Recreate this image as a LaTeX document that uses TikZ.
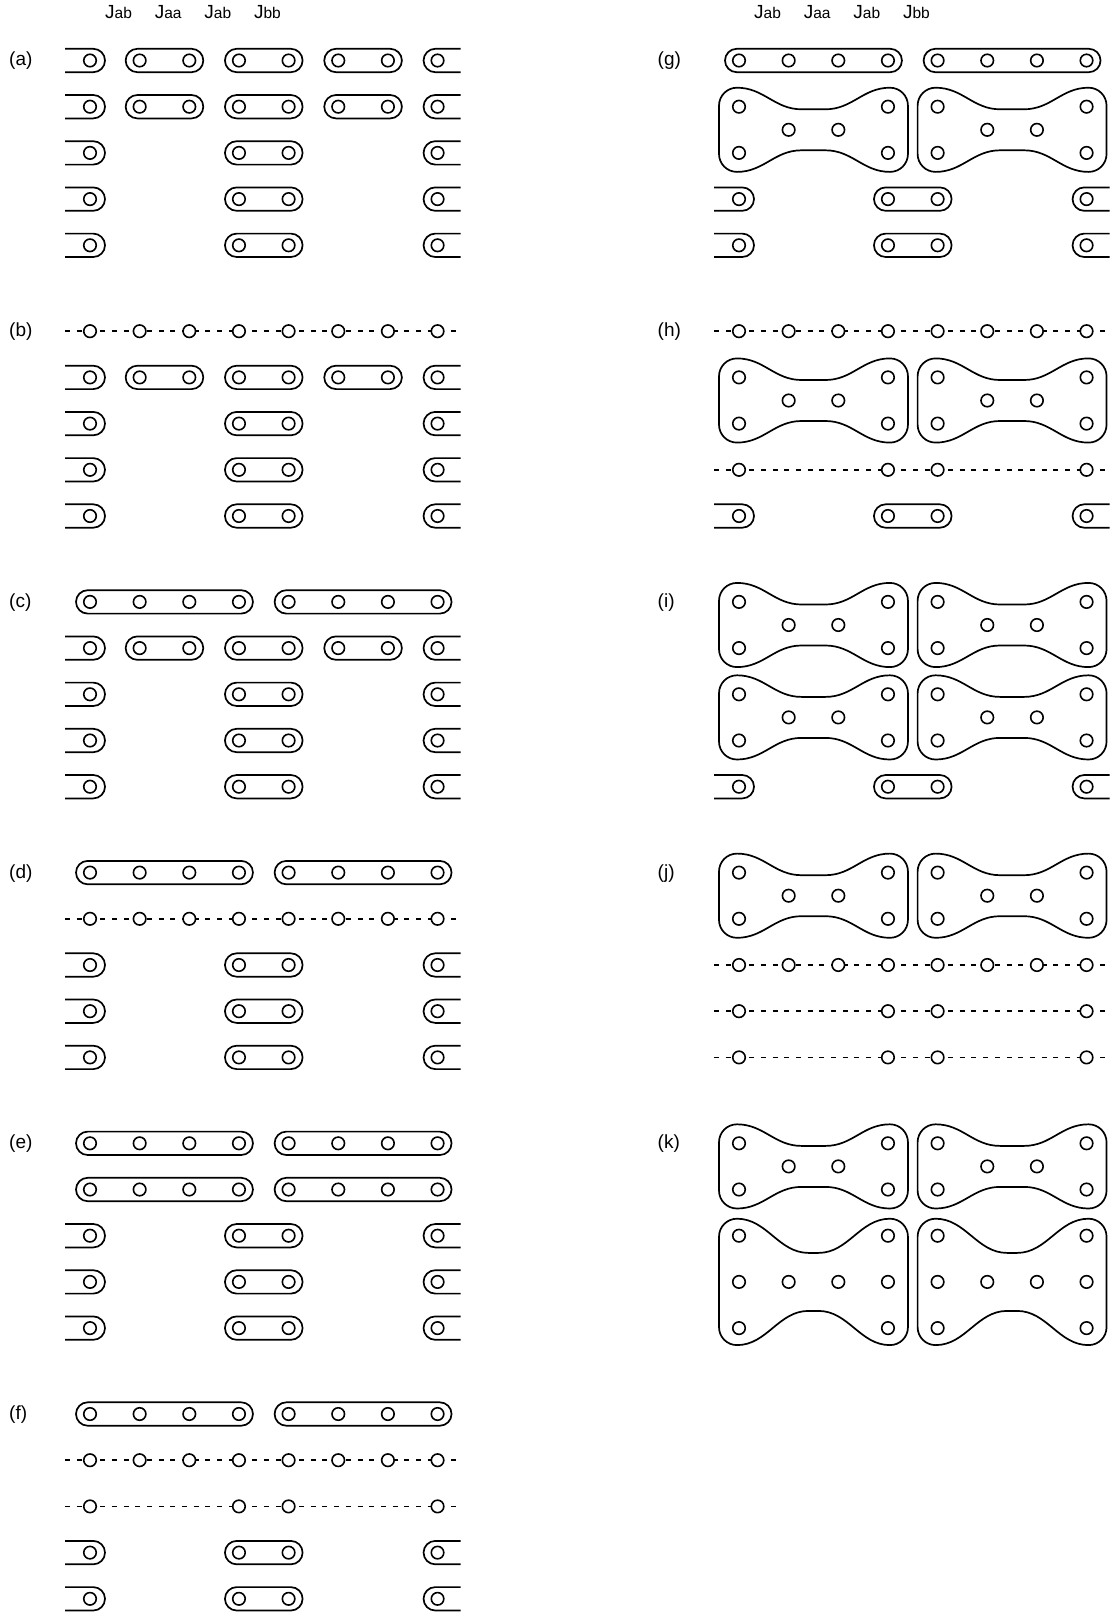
\documentclass[tikz,border=0pt]{standalone}
\usepackage{fontspec}
\setmainfont{Liberation Sans}
\newcommand\Site[4]{\node[site] (#1) at ({#2+49.65*#3},{#4}) {};}
\newcommand\HalfL[2]{\draw[bond,rounded corners=11.7pt] ({#1-25},{#2-11.7}) -- ({#1+15},{#2-11.7}) -- ({#1+15},{#2+11.7}) -- ({#1-25},{#2+11.7});}
\newcommand\HalfR[2]{\draw[bond,rounded corners=11.7pt] ({#1+49.65*7+23},{#2-11.7}) -- ({#1+49.65*7-14},{#2-11.7}) -- ({#1+49.65*7-14},{#2+11.7}) -- ({#1+49.65*7+23},{#2+11.7});}
\newcommand\Pill[4]{\draw[bond,rounded corners=11.7pt] ({#1+49.65*#2-14},{#4-11.7}) rectangle ({#1+49.65*#3+14},{#4+11.7});}
\newcommand\FullRow[3]{\HalfL{#2}{#3}\Pill{#2}{1}{2}{#3}\Pill{#2}{3}{4}{#3}\Pill{#2}{5}{6}{#3}\HalfR{#2}{#3}\foreach \c in {0,...,7}{\Site{#1-\c}{#2}{\c}{#3}}}
\newcommand\SparseRow[3]{\HalfL{#2}{#3}\Pill{#2}{3}{4}{#3}\HalfR{#2}{#3}\foreach \c in {0,3,4,7}{\Site{#1-\c}{#2}{\c}{#3}}}
\newcommand\LongRow[3]{\Pill{#2}{0}{3}{#3}\Pill{#2}{4}{7}{#3}\foreach \c in {0,...,7}{\Site{#1-\c}{#2}{\c}{#3}}}
\newcommand\DashRow[3]{\coordinate (#1-L) at ({#2-25},{#3}); \coordinate (#1-R) at ({#2+49.65*7+22},{#3}); \draw[dashline] (#1-L) -- (#1-R); \foreach \c in {0,...,7}{\Site{#1-\c}{#2}{\c}{#3}}}
\newcommand\DashSparse[3]{\coordinate (#1-L) at ({#2-25},{#3}); \coordinate (#1-R) at ({#2+49.65*7+22},{#3}); \draw[dashline] (#1-L) -- (#1-R); \foreach \c in {0,3,4,7}{\Site{#1-\c}{#2}{\c}{#3}}}
% xl, xr, cx, yT, yB, yW, yWb, waist half width, handle
\newcommand\BowShape[9]{%
\draw[bond] ({#1},{#4+18}) .. controls ({#1},{#4+8}) and ({#1+8},{#4}) .. ({#1+18},{#4})
 .. controls ({#1+18+#9},{#4}) and ({#3-#8-#9},{#6}) .. ({#3-#8},{#6})
 -- ({#3+#8},{#6})
 .. controls ({#3+#8+#9},{#6}) and ({#2-18-#9},{#4}) .. ({#2-18},{#4})
 .. controls ({#2-8},{#4}) and ({#2},{#4+8}) .. ({#2},{#4+18})
 -- ({#2},{#5-18})
 .. controls ({#2},{#5-8}) and ({#2-8},{#5}) .. ({#2-18},{#5})
 .. controls ({#2-18-#9},{#5}) and ({#3+#8+#9},{#7}) .. ({#3+#8},{#7})
 -- ({#3-#8},{#7})
 .. controls ({#3-#8-#9},{#7}) and ({#1+18+#9},{#5}) .. ({#1+18},{#5})
 .. controls ({#1+8},{#5}) and ({#1},{#5-8}) .. ({#1},{#5-18}) -- cycle;}
\newcommand\SmallBow[3]{%
 \pgfmathsetmacro\bxl{#2-20}\pgfmathsetmacro\bxr{#2+3*49.65+20}\pgfmathsetmacro\bcx{#2+1.5*49.65}%
 \pgfmathsetmacro\byT{#3-19}\pgfmathsetmacro\byB{#3+46.2+19}%
 \pgfmathsetmacro\byW{#3+23.1-20.5}\pgfmathsetmacro\byWb{#3+23.1+20.5}%
 \BowShape{\bxl}{\bxr}{\bcx}{\byT}{\byB}{\byW}{\byWb}{12}{27}
 \Site{#1-tl}{#2}{0}{#3}\Site{#1-tr}{#2}{3}{#3}
 \Site{#1-bl}{#2}{0}{#3+46.2}\Site{#1-br}{#2}{3}{#3+46.2}
 \Site{#1-ml}{#2}{1}{#3+23.1}\Site{#1-mr}{#2}{2}{#3+23.1}}
\newcommand\BigBow[3]{%
 \pgfmathsetmacro\bxl{#2-20}\pgfmathsetmacro\bxr{#2+3*49.65+20}\pgfmathsetmacro\bcx{#2+1.5*49.65}%
 \pgfmathsetmacro\byT{#3-17}\pgfmathsetmacro\byB{#3+92.4+17}%
 \pgfmathsetmacro\byW{#3+46.2-29}\pgfmathsetmacro\byWb{#3+46.2+29}%
 \BowShape{\bxl}{\bxr}{\bcx}{\byT}{\byB}{\byW}{\byWb}{5}{30}
 \Site{#1-tl}{#2}{0}{#3}\Site{#1-tr}{#2}{3}{#3}
 \Site{#1-bl}{#2}{0}{#3+92.4}\Site{#1-br}{#2}{3}{#3+92.4}
 \foreach \c in {0,...,3}{\Site{#1-m\c}{#2}{\c}{#3+46.2}}}
\begin{document}
\begin{tikzpicture}[x=1pt,y=-1pt,
  site/.style={circle,draw,fill=white,minimum size=12.5pt,inner sep=0pt,outer sep=0pt,line width=1.6pt},
  bond/.style={line width=1.7pt},
  dashline/.style={line width=1.6pt,dash pattern=on 5pt off 6.7pt},
  lab/.style={font=\fontsize{19}{19}\selectfont,inner sep=0pt,anchor=west},
  hdr/.style={font=\fontsize{19}{19}\selectfont,inner sep=0pt,anchor=base west}]
\useasboundingbox (0,0) rectangle (1111,1614);
% headers
\foreach \t/\s [count=\k from 0] in {J/ab,J/aa,J/ab,J/bb}{
  \node[hdr] (hl\k) at ({105+49.6*\k},18.5) {\t{\fontsize{15.5}{15.5}\selectfont\s}};
  \node[hdr] (hr\k) at ({754+49.6*\k},18.5) {\t{\fontsize{15.5}{15.5}\selectfont\s}};
}
% panel labels
\node[lab] (la) at (9,61) {(a)};
\node[lab] (lb) at (9,331.7) {(b)};
\node[lab] (lc) at (9,602.4) {(c)};
\node[lab] (ld) at (9,873.1) {(d)};
\node[lab] (le) at (9,1143.8) {(e)};
\node[lab] (lf) at (9,1414.5) {(f)};
\node[lab] (lg) at (657.5,61) {(g)};
\node[lab] (lh) at (657.5,331.7) {(h)};
\node[lab] (li) at (657.5,602.4) {(i)};
\node[lab] (lj) at (657.5,873.1) {(j)};
\node[lab] (lk) at (657.5,1143.8) {(k)};
% (a)
\FullRow{a1}{90}{60.5}
\FullRow{a2}{90}{106.7}
\SparseRow{a3}{90}{152.9}
\SparseRow{a4}{90}{199.1}
\SparseRow{a5}{90}{245.3}
% (b)
\DashRow{b1}{90}{331.2}
\FullRow{b2}{90}{377.4}
\SparseRow{b3}{90}{423.6}
\SparseRow{b4}{90}{469.8}
\SparseRow{b5}{90}{516.0}
% (c)
\LongRow{c1}{90}{601.9}
\FullRow{c2}{90}{648.1}
\SparseRow{c3}{90}{694.3}
\SparseRow{c4}{90}{740.5}
\SparseRow{c5}{90}{786.7}
% (d)
\LongRow{d1}{90}{872.6}
\DashRow{d2}{90}{918.8}
\SparseRow{d3}{90}{965.0}
\SparseRow{d4}{90}{1011.2}
\SparseRow{d5}{90}{1057.4}
% (e)
\LongRow{e1}{90}{1143.3}
\LongRow{e2}{90}{1189.5}
\SparseRow{e3}{90}{1235.7}
\SparseRow{e4}{90}{1281.9}
\SparseRow{e5}{90}{1328.1}
% (f)
\LongRow{f1}{90}{1414.0}
\DashRow{f2}{90}{1460.2}
\DashSparse{f3}{90}{1506.4}
\SparseRow{f4}{90}{1552.6}
\SparseRow{f5}{90}{1598.8}
% (g)
\LongRow{g1}{739}{60.5}
\SmallBow{gA}{739}{106.7}
\SmallBow{gB}{937.6}{106.7}
\SparseRow{g4}{739}{199.1}
\SparseRow{g5}{739}{245.3}
% (h)
\DashRow{h1}{739}{331.2}
\SmallBow{hA}{739}{377.4}
\SmallBow{hB}{937.6}{377.4}
\DashSparse{h4}{739}{469.8}
\SparseRow{h5}{739}{516.0}
% (i)
\SmallBow{iA}{739}{601.9}
\SmallBow{iB}{937.6}{601.9}
\SmallBow{iC}{739}{694.3}
\SmallBow{iD}{937.6}{694.3}
\SparseRow{i5}{739}{786.7}
% (j)
\SmallBow{jA}{739}{872.6}
\SmallBow{jB}{937.6}{872.6}
\DashRow{j3}{739}{965.0}
\DashSparse{j4}{739}{1011.2}
\DashSparse{j5}{739}{1057.4}
% (k)
\SmallBow{kA}{739}{1143.3}
\SmallBow{kB}{937.6}{1143.3}
\BigBow{kC}{739}{1235.7}
\BigBow{kD}{937.6}{1235.7}
\end{tikzpicture}
\end{document}
